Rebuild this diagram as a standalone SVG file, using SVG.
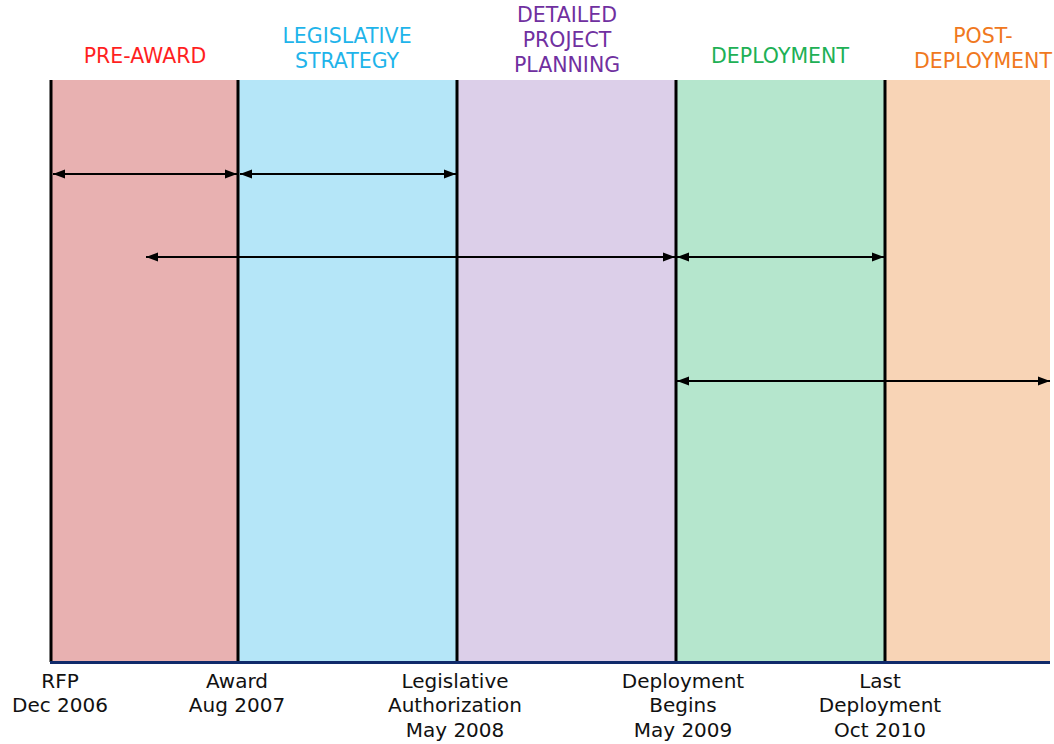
<svg xmlns="http://www.w3.org/2000/svg" width="1054" height="744" viewBox="0 0 1054 744">
<defs>
<marker id="ah" viewBox="0 0 12 10" refX="12" refY="5" markerWidth="12" markerHeight="10" markerUnits="userSpaceOnUse" orient="auto-start-reverse">
<path d="M0,0.5 L12,5 L0,9.5 z" fill="#000"/>
</marker>
<style>
text{font-family:"DejaVu Sans",sans-serif;font-size:20px;text-anchor:middle}
.hd{font-size:20.5px}
.lbl{fill:#111}
.div{stroke:#000;stroke-width:3}
.arr{stroke:#000;stroke-width:2;fill:none;marker-start:url(#ah);marker-end:url(#ah)}
</style>
</defs>
<rect width="1054" height="744" fill="#fff"/>
<g id="phase-preaward">
<rect x="51" y="80" width="187" height="582" fill="#e8b1b1"/>
<text class="hd" x="145" y="63" fill="#ff1f1f">PRE-AWARD</text>
</g>
<g id="phase-legislative">
<rect x="238" y="80" width="219" height="582" fill="#b5e6f8"/>
<text class="hd" x="347" y="43" fill="#1fb4ea">LEGISLATIVE</text>
<text class="hd" x="347" y="68" fill="#1fb4ea">STRATEGY</text>
</g>
<g id="phase-planning">
<rect x="457" y="80" width="219" height="582" fill="#dccfe9"/>
<text class="hd" x="567" y="22" fill="#7030a0">DETAILED</text>
<text class="hd" x="567" y="47" fill="#7030a0">PROJECT</text>
<text class="hd" x="567" y="72" fill="#7030a0">PLANNING</text>
</g>
<g id="phase-deployment">
<rect x="676" y="80" width="209" height="582" fill="#b5e6cd"/>
<text class="hd" x="780" y="63" fill="#20b055">DEPLOYMENT</text>
</g>
<g id="phase-postdeployment">
<rect x="885" y="80" width="165" height="582" fill="#f8d4b6"/>
<text class="hd" x="983" y="43" fill="#f07820">POST-</text>
<text class="hd" x="983" y="68" fill="#f07820">DEPLOYMENT</text>
</g>
<g id="dividers">
<line class="div" x1="51" y1="80" x2="51" y2="662"/>
<line class="div" x1="238" y1="80" x2="238" y2="662"/>
<line class="div" x1="457" y1="80" x2="457" y2="662"/>
<line class="div" x1="676" y1="80" x2="676" y2="662"/>
<line class="div" x1="885" y1="80" x2="885" y2="662"/>
<line x1="50" y1="662.5" x2="1050" y2="662.5" stroke="#102a6a" stroke-width="3"/>
</g>
<g id="connectors">
<line class="arr" x1="53" y1="174" x2="237" y2="174"/>
<line class="arr" x1="240" y1="174" x2="456" y2="174"/>
<line class="arr" x1="146" y1="257" x2="675" y2="257"/>
<line class="arr" x1="677" y1="257" x2="884" y2="257"/>
<line class="arr" x1="677" y1="381" x2="1050" y2="381"/>
</g>
<g id="milestone-rfp">
<text class="lbl" x="60" y="688">RFP</text>
<text class="lbl" x="60" y="712">Dec 2006</text>
</g>
<g id="milestone-award">
<text class="lbl" x="237" y="688">Award</text>
<text class="lbl" x="237" y="712">Aug 2007</text>
</g>
<g id="milestone-legislative">
<text class="lbl" x="455" y="688">Legislative</text>
<text class="lbl" x="455" y="712">Authorization</text>
<text class="lbl" x="455" y="737">May 2008</text>
</g>
<g id="milestone-deployment">
<text class="lbl" x="683" y="688">Deployment</text>
<text class="lbl" x="683" y="712">Begins</text>
<text class="lbl" x="683" y="737">May 2009</text>
</g>
<g id="milestone-last">
<text class="lbl" x="880" y="688">Last</text>
<text class="lbl" x="880" y="712">Deployment</text>
<text class="lbl" x="880" y="737">Oct 2010</text>
</g>
</svg>
